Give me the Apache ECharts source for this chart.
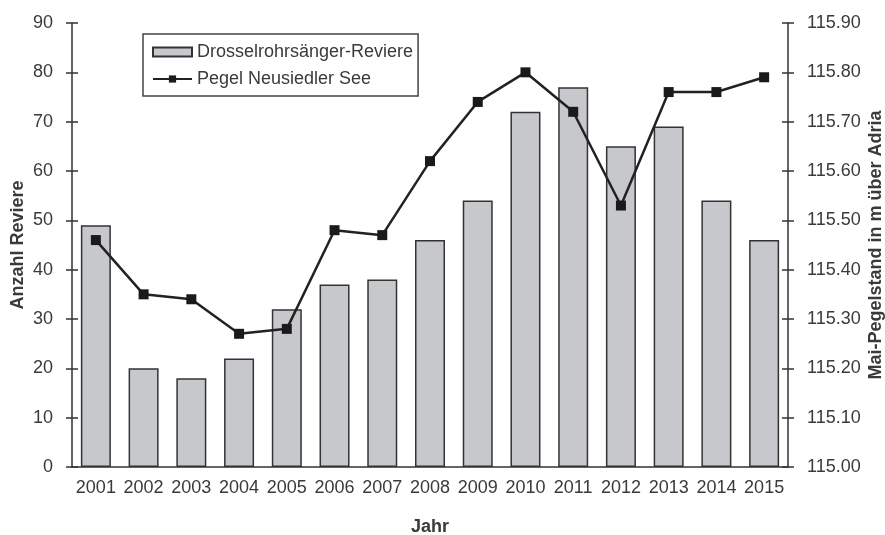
<!DOCTYPE html>
<html>
<head>
<meta charset="utf-8">
<script src="https://cdn.jsdelivr.net/npm/echarts@6/dist/echarts.min.js"></script>
<style>
  html, body { margin: 0; padding: 0; background: #fff; }
  #chart { width: 885px; height: 535px; }
</style>
</head>
<body>
<div id="chart"></div>
<script>
// Daten
const years = ['2001', '2002', '2003', '2004', '2005', '2006', '2007', '2008',
  '2009', '2010', '2011', '2012', '2013', '2014', '2015'];
const reviere = [49, 20, 18, 22, 32, 37, 38, 46, 54, 72, 77, 65, 69, 54, 46];
const pegel = [115.46, 115.35, 115.34, 115.27, 115.28, 115.48, 115.47, 115.62,
  115.74, 115.80, 115.72, 115.53, 115.76, 115.76, 115.79];

const barName = 'Drosselrohrsänger-Reviere';
const lineName = 'Pegel Neusiedler See';

const FONT = 'Liberation Sans, Arial, sans-serif';
const TEXT = '#3a3a3a';
const AXIS = '#333';

const chart = echarts.init(document.getElementById('chart'));

// gemeinsame Achseneinstellungen (Ticks kreuzen die Achse -> zwei Achsen je Seite)
function yAxisBase(extra) {
  return Object.assign({
    type: 'value',
    splitLine: { show: false },
    axisLine: { show: true, lineStyle: { color: AXIS, width: 1.5 } },
    axisTick: { show: true, length: 6, lineStyle: { color: AXIS, width: 1.5 } },
    axisLabel: { color: TEXT, fontSize: 18, fontFamily: FONT, margin: 19 }
  }, extra);
}

const titleStyle = { color: TEXT, fontSize: 18, fontWeight: 'bold', fontFamily: FONT };

const option = {
  animation: false,
  backgroundColor: '#fff',
  grid: { left: 72, right: 97, top: 23, bottom: 68, containLabel: false, outerBoundsMode: 'none' },
  legend: {
    orient: 'vertical',
    left: 143,
    top: 34,
    padding: [9, 5, 8, 9],
    itemGap: 9,
    itemWidth: 39,
    itemHeight: 9,
    borderColor: '#444',
    borderWidth: 1.5,
    textStyle: { color: TEXT, fontSize: 18, fontFamily: FONT },
    data: [
      { name: barName, icon: 'rect' },
      { name: lineName }
    ]
  },
  xAxis: [{
    type: 'category',
    data: years,
    name: 'Jahr',
    nameLocation: 'middle',
    nameGap: 51,
    nameMoveOverlap: false,
    nameTextStyle: { color: TEXT, fontSize: 18, fontWeight: 'bold', fontFamily: FONT },
    axisLine: { lineStyle: { color: AXIS, width: 1.5 } },
    axisTick: { length: 6, lineStyle: { color: AXIS, width: 1.5 } },
    axisLabel: { color: TEXT, fontSize: 18, fontFamily: FONT, margin: 12, interval: 0, hideOverlap: false }
  }, {
    type: 'category',
    data: years,
    position: 'bottom',
    axisLine: { show: false },
    axisTick: { inside: true, length: 6, lineStyle: { color: AXIS, width: 1.5 } },
    axisLabel: { show: false }
  }],
  yAxis: [
    yAxisBase({
      min: 0, max: 90, interval: 10,
      name: 'Anzahl Reviere',
      nameLocation: 'middle',
      nameGap: 45,
      nameRotate: 90,
      nameMoveOverlap: false,
      nameTextStyle: titleStyle
    }),
    yAxisBase({
      position: 'right',
      min: 115.0, max: 115.9, interval: 0.1,
      name: 'Mai-Pegelstand in m über Adria',
      nameLocation: 'middle',
      nameGap: 79,
      nameRotate: 90,
      nameMoveOverlap: false,
      nameTextStyle: titleStyle,
      axisLabel: {
        color: TEXT, fontSize: 18, fontFamily: FONT, margin: 19,
        formatter: v => v.toFixed(2)
      }
    }),
    yAxisBase({
      min: 0, max: 90, interval: 10,
      position: 'left',
      axisLine: { show: false },
      axisTick: { show: true, inside: true, length: 6, lineStyle: { color: AXIS, width: 1.5 } },
      axisLabel: { show: false }
    }),
    yAxisBase({
      min: 115.0, max: 115.9, interval: 0.1,
      position: 'right',
      axisLine: { show: false },
      axisTick: { show: true, inside: true, length: 6, lineStyle: { color: AXIS, width: 1.5 } },
      axisLabel: { show: false }
    })
  ],
  series: [
    {
      name: barName,
      type: 'bar',
      yAxisIndex: 0,
      barWidth: 30,
      data: reviere,
      itemStyle: { color: '#c7c8cb', borderColor: '#333', borderWidth: 1.5 }
    },
    {
      name: lineName,
      type: 'line',
      yAxisIndex: 1,
      data: pegel,
      symbol: 'rect',
      symbolSize: 10,
      lineStyle: { color: '#222', width: 2.5 },
      itemStyle: { color: '#1a1a1a' }
    }
  ]
};

chart.setOption(option);
</script>
</body>
</html>
